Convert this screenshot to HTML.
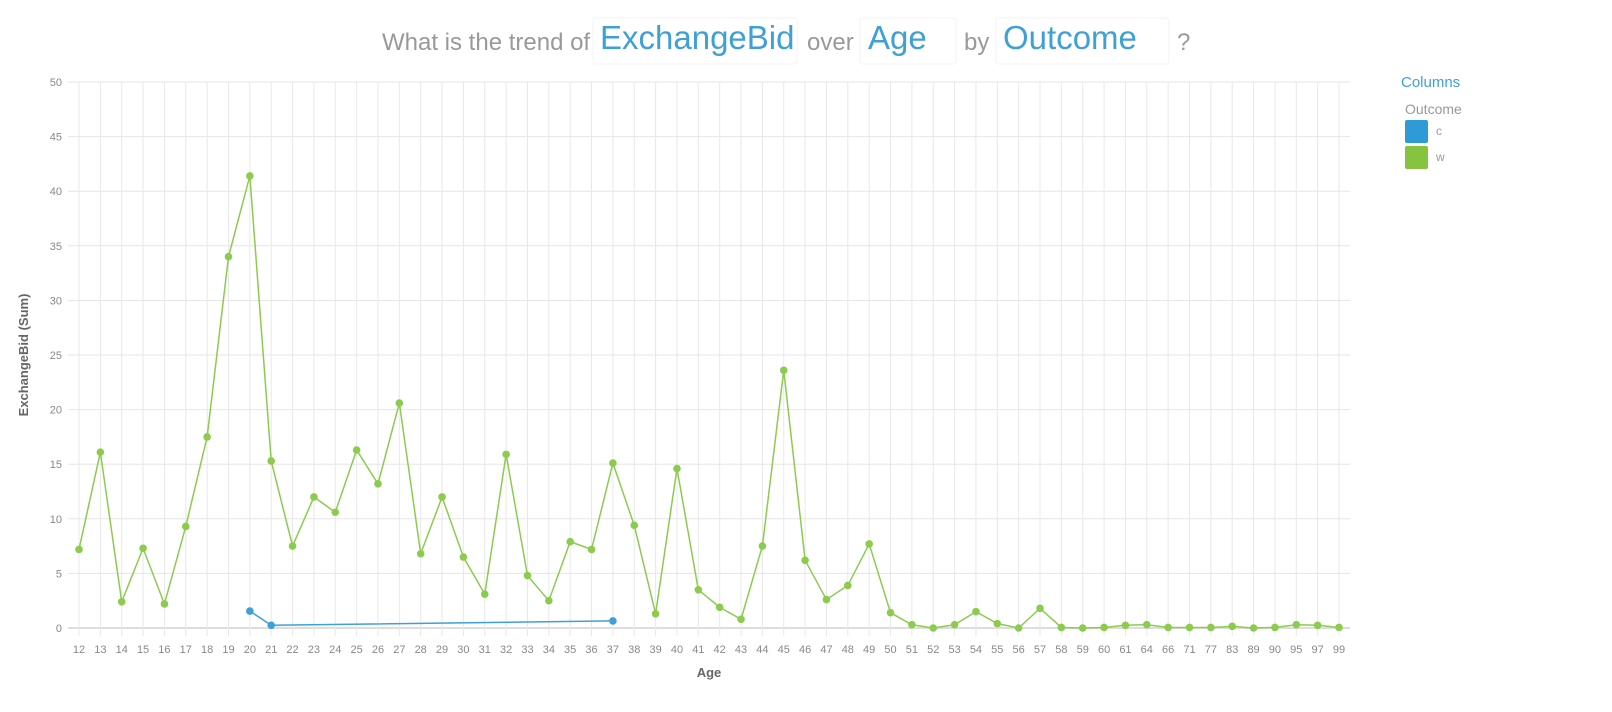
<!DOCTYPE html>
<html><head><meta charset="utf-8"><style>
body{margin:0;background:#fff;font-family:"Liberation Sans",sans-serif}
svg{display:block}
</style></head><body>
<svg id="chart" width="1612" height="712" xmlns="http://www.w3.org/2000/svg">
<g font-size="24">
<text x="382" y="50" fill="#999">What is the trend of</text>
<rect x="593" y="18" width="204" height="46" fill="none" stroke="#f3f3f3" rx="3"/>
<text x="600" y="49" fill="#3fa0d4" font-size="33">ExchangeBid</text>
<text x="807" y="50" fill="#999">over</text>
<rect x="860" y="18" width="96" height="46" fill="none" stroke="#f3f3f3" rx="3"/>
<text x="868" y="49" fill="#3fa0d4" font-size="33">Age</text>
<text x="964" y="50" fill="#999">by</text>
<rect x="996" y="18" width="173" height="46" fill="none" stroke="#f3f3f3" rx="3"/>
<text x="1003" y="49" fill="#3fa0d4" font-size="33">Outcome</text>
<text x="1177" y="50" fill="#999">?</text>
</g>
<g id="grid"></g><g id="axes"></g><g id="series"></g>
<text x="28" y="355" transform="rotate(-90 28 355)" text-anchor="middle" font-size="13" font-weight="bold" fill="#666">ExchangeBid (Sum)</text>
<text x="709" y="677" text-anchor="middle" font-size="13" font-weight="bold" fill="#666">Age</text>
<g>
<text x="1401" y="87" fill="#3fa0d4" font-size="15">Columns</text>
<text x="1405" y="114" fill="#999" font-size="14">Outcome</text>
<rect x="1405" y="120" width="23" height="23" rx="2" fill="#2e9bd6"/>
<text x="1436" y="135" fill="#999" font-size="12">c</text>
<rect x="1405" y="146" width="23" height="23" rx="2" fill="#86c43f"/>
<text x="1436" y="161" fill="#999" font-size="12">w</text>
</g>
</svg>
<script>
const categories=[12,13,14,15,16,17,18,19,20,21,22,23,24,25,26,27,28,29,30,31,32,33,34,35,36,37,38,39,40,41,42,43,44,45,46,47,48,49,50,51,52,53,54,55,56,57,58,59,60,61,64,66,71,77,83,89,90,95,97,99];
const wValues=[7.2,16.1,2.4,7.3,2.2,9.3,17.5,34,41.4,15.3,7.5,12,10.6,16.3,13.2,20.6,6.8,12,6.5,3.1,15.9,4.8,2.5,7.9,7.2,15.1,9.4,1.3,14.6,3.5,1.9,0.8,7.5,23.6,6.2,2.6,3.9,7.7,1.4,0.3,0,0.3,1.5,0.4,0,1.8,0.05,0,0.05,0.25,0.3,0.05,0.05,0.05,0.15,0,0.05,0.3,0.25,0.05];
const cAges=[20,21,37];
const cValues=[1.55,0.25,0.65];
const yTicks=[0,5,10,15,20,25,30,35,40,45,50];
const NS="http://www.w3.org/2000/svg";
const x0=79,x1=1339,yBase=628,yTop=82;
function xs(cat){return x0+categories.indexOf(cat)*(x1-x0)/(categories.length-1);}
function ys(v){return yBase-v/50*(yBase-yTop);}
function mk(tag,attrs,parent){const e=document.createElementNS(NS,tag);for(const k in attrs)e.setAttribute(k,attrs[k]);parent.appendChild(e);return e;}
const grid=document.getElementById('grid'),axes=document.getElementById('axes'),series=document.getElementById('series');
yTicks.forEach(t=>{
 const l=mk('line',{x1:68,x2:1350,y1:ys(t),y2:ys(t),stroke:t===0?'#ddd':'#e6e6e6','stroke-width':t===0?2:1},grid);
 
 
 const tx=mk('text',{x:62,y:ys(t)+4,'text-anchor':'end','font-size':11,fill:'#888'},axes);
 tx.textContent=t;
 
 
});
categories.forEach(c=>{
 const l=mk('line',{x1:xs(c),x2:xs(c),y1:yTop,y2:yBase+8,stroke:'#e8e8e8','stroke-width':1},grid);
 
 
 const tx=mk('text',{x:xs(c),y:653,'text-anchor':'middle','font-size':11,fill:'#888'},axes);
 tx.textContent=c;
 
 
});
function drawSeries(ages,vals,color,name){
 const p=mk('polyline',{points:ages.map((a,i)=>xs(a)+','+ys(vals[i])).join(' '),fill:'none',stroke:color,'stroke-width':1.5},series);
 
 
 ages.forEach((a,i)=>{
  const c=mk('circle',{cx:xs(a),cy:ys(vals[i]),r:3.8,fill:color},series);
  
  
 });
}
drawSeries(categories,wValues,'#8ccb4e','series-w');
drawSeries(cAges,cValues,'#3fa0d9','series-c');
</script>
</body></html>
